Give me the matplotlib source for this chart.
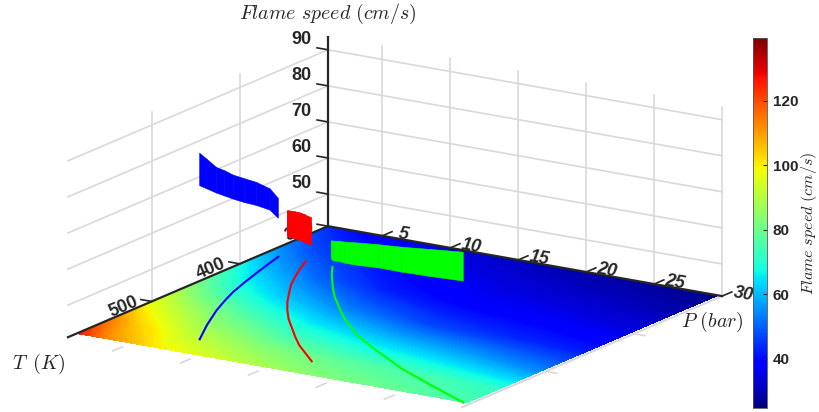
import numpy as np
import matplotlib
matplotlib.use('Agg')
import matplotlib.pyplot as plt
from mpl_toolkits.mplot3d import proj3d

plt.rcParams['mathtext.fontset'] = 'cm'

# flame speed map on the floor, rows = T, columns = P
P_grid = [1, 3, 7, 12, 18, 24, 29.7]
T_grid = [300, 350, 400, 450, 500, 550, 585]
speed_map = [
    [44, 40, 36, 33, 30, 28, 26],
    [54, 48, 42, 37, 34, 32, 30],
    [68, 60, 50, 42, 38, 37, 35],
    [82, 73, 63, 54, 47, 44, 42],
    [97, 90, 79, 69, 63, 59, 54],
    [115, 105, 92, 84, 78, 75, 72],
    [127, 113, 100, 92, 84, 79, 75],
]

# the three mixtures: path on the floor and lower/upper speed of the ribbon
blue_P = [2.15, 2.45, 2.98, 3.5, 4.08, 4.7, 5.45, 6.75, 8.1]
blue_T = [374, 388, 411.5, 433, 455, 474, 495, 526, 555]
blue_low = [51.8, 55.7, 59.8, 63.2, 66.85, 70.1, 73.6, 78.9, 83.7]
blue_high = [57.3, 61.6, 66.2, 69.8, 73.5, 77.1, 80.7, 87.1, 92.7]

red_P = [4.1, 4.69, 5.46, 6.2, 7.15, 8.1, 9.1, 10.3, 11.6, 12.8, 14, 15.3, 16.6]
red_T = [373, 388, 406, 422, 439, 455.5, 471, 488, 504, 519, 533, 546, 559]
red_low = [46.1, 48.9, 51.9, 54.3, 57, 59.3, 61.7, 63.9, 66.2, 68.3, 70.3, 71.7, 73.3]
red_high = [53.9, 56.4, 59.1, 61.4, 64, 66.2, 68.6, 71.1, 73.5, 75.8, 77.8, 79.4, 80.9]

green_P = [6.2, 7.05, 8, 9, 10, 11.5, 13.1, 15.8, 18.9, 22.2, 25.7, 29.5]
green_T = [375, 389, 403, 417.5, 431, 449, 468, 495, 519, 543, 564, 586]
green_low = [43.1, 45.3, 47.4, 49.1, 51.1, 53.9, 56.5, 60.5, 64.4, 67.9, 71.2, 74.8]
green_high = [48.3, 50.35, 52.5, 54.4, 56.6, 59.5, 62.3, 66.7, 70.8, 74.8, 78.7, 82.8]

P_ticks = [5, 10, 15, 20, 25, 30]
T_ticks = [300, 400, 500]
Z_ticks = [50, 60, 70, 80, 90]
cbar_ticks = [40, 60, 80, 100, 120]

P_lim = (1, 30)
T_lim = (300, 595)
Z_lim = (41.1, 93.6)
speed_lim = (24.8, 139.5)

dark = '#262626'
grid_col = '#d9d9d9'
tick_font = dict(family='Liberation Sans', fontweight='bold', color=dark, fontsize=13,
                 ha='center', va='center', rotation_mode='anchor', zorder=3)

fig = plt.figure(figsize=(8.2, 4.12), dpi=100)
W = 860
ax = fig.add_axes([-46.6 / 820, -251.6 / 412, W / 820, W / 412], projection='3d',
                  proj_type='ortho', computed_zorder=False)
ax.view_init(elev=15.98, azim=32.8)
ax.set_box_aspect((480, 469, 197), zoom=678.9 / W)
ax.set_xlim(T_lim[0], T_lim[1], view_margin=0)
ax.set_ylim(P_lim[0], P_lim[1], view_margin=0)
ax.set_zlim(Z_lim[0], Z_lim[1], view_margin=0)
ax.set_xticks([])
ax.set_yticks([])
ax.set_zticks([])
ax.set_axis_off()


# tick label at a 3D point, written on the flat picture so the angle can be set
def tick_label(t, p, z, s, **kw):
    xp, yp, _ = proj3d.proj_transform(t, p, z, ax.get_proj())
    ax.text2D(xp, yp, s, transform=ax.transData, **tick_font, **kw)


# back walls
for p in P_ticks:
    ax.plot([T_lim[0]] * 2, [p, p], Z_lim, color=grid_col, lw=1.2, zorder=1)
for t in T_ticks[1:]:
    ax.plot([t, t], [P_lim[0]] * 2, Z_lim, color=grid_col, lw=1.2, zorder=1)
for z in Z_ticks:
    ax.plot([T_lim[0]] * 2, P_lim, [z, z], color=grid_col, lw=1.2, zorder=1)
    ax.plot(T_lim, [P_lim[0]] * 2, [z, z], color=grid_col, lw=1.2, zorder=1)

# mirrored edges and ticks at the front
ax.plot(T_lim, [P_lim[1]] * 2, [Z_lim[0]] * 2, color=grid_col, lw=1.5, zorder=1)
for t in T_ticks[1:]:
    ax.plot([t, t], [P_lim[1], P_lim[1] + 0.8], [Z_lim[0]] * 2, color=grid_col, lw=1.2, zorder=1)
for p in P_ticks[:-1]:
    ax.plot([T_lim[1], T_lim[1] + 11], [p, p], [Z_lim[0]] * 2, color=grid_col, lw=1.2, zorder=1)

# floor map
ax.contourf(T_grid, P_grid, np.array(speed_map).T, levels=np.linspace(speed_lim[0], speed_lim[1], 230),
            cmap='jet', vmin=speed_lim[0], vmax=speed_lim[1], zdir='z', offset=Z_lim[0],
            zorder=2, antialiased=False)

# main axes
ax.plot(T_lim, [P_lim[0]] * 2, [Z_lim[0]] * 2, color=dark, lw=1.6, zorder=3)
ax.plot([T_lim[0]] * 2, P_lim, [Z_lim[0]] * 2, color=dark, lw=1.6, zorder=3)
ax.plot([T_lim[0]] * 2, [P_lim[0]] * 2, Z_lim, color=dark, lw=1.6, zorder=3)

for z in Z_ticks:
    ax.plot([T_lim[0]] * 2, [P_lim[0] - 0.8, P_lim[0]], [z, z], color=dark, lw=1.2, zorder=3)
    tick_label(T_lim[0], P_lim[0] - 1.95, z + 1.6, str(z))
for t in T_ticks:
    ax.plot([t, t], [P_lim[0] - 0.8, P_lim[0]], [Z_lim[0]] * 2, color=dark, lw=1.2, zorder=3)
    tick_label(t, P_lim[0] - 2.1, Z_lim[0] - 2.8, str(t), rotation=23)
for p in P_ticks:
    ax.plot([T_lim[0] - 11, T_lim[0]], [p, p], [Z_lim[0]] * 2, color=dark, lw=1.2, zorder=3)
    tick_label(T_lim[0] - 24, p, Z_lim[0] - 2, str(p), rotation=-10, style='italic')

# mixtures
for P, T, low, high, col in [(blue_P, blue_T, blue_low, blue_high, '#0000ff'),
                             (red_P, red_T, red_low, red_high, '#ff0000'),
                             (green_P, green_T, green_low, green_high, '#00ff00')]:
    ax.plot(T, P, [Z_lim[0]] * len(P), color=col, lw=1.5, zorder=4, solid_joinstyle='round')
    X = np.array([T, T], dtype=float)
    Y = np.array([P, P], dtype=float)
    Z = np.array([low, high], dtype=float)
    ax.plot_surface(X, Y, Z, color=col, shade=False, rstride=1, cstride=1,
                    linewidth=0.4, edgecolor=col, zorder=5)

fig.text(328 / 820, 1 - 14 / 412, r'$Flame\ speed\ (cm/s)$', ha='center', va='center', fontsize=14.4, color=dark)
fig.text(38.5 / 820, 1 - 364 / 412, r'$T\ \,(K)$', ha='center', va='center', fontsize=14.4, color=dark)
fig.text(712 / 820, 1 - 322 / 412, r'$P\ (bar)$', ha='center', va='center', fontsize=14.4, color=dark)

# colorbar
cax = fig.add_axes([753 / 820, 1 - 408 / 412, 14 / 820, 370 / 412])
sm = plt.cm.ScalarMappable(norm=plt.Normalize(*speed_lim), cmap='jet')
cb = fig.colorbar(sm, cax=cax)
cb.set_ticks(cbar_ticks)
cb.outline.set_edgecolor('#555555')
cb.outline.set_linewidth(0.6)
cax.tick_params(direction='in', length=3, width=0.8, color=dark, pad=4)
for lab in cax.get_yticklabels():
    lab.set_fontfamily('Liberation Sans')
    lab.set_fontweight('bold')
    lab.set_fontsize(11)
    lab.set_color(dark)
fig.text(809.5 / 820, 1 - 223 / 412, r'$Flame\ speed\ (cm/s)$', rotation=90, ha='center', va='center',
         fontsize=11.6, color=dark)

fig.savefig('out.png', dpi=100)
